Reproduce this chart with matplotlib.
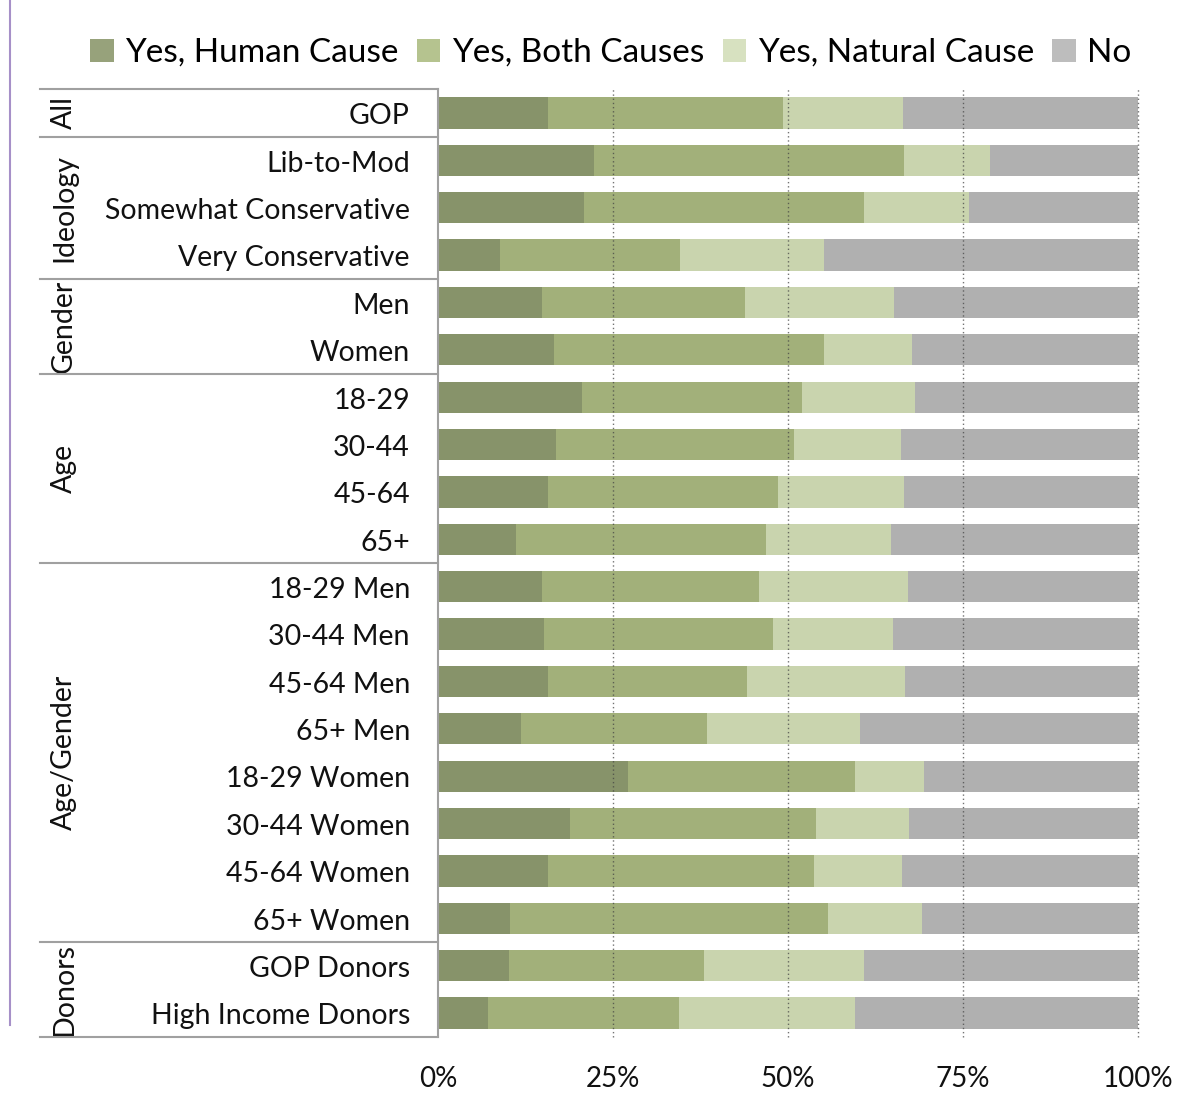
import matplotlib
matplotlib.use("Agg")
import matplotlib.pyplot as plt
from matplotlib.patches import Patch
import numpy as np

plt.rcParams['font.family'] = ['Lato', 'DejaVu Sans']

categories = ["GOP", "Lib-to-Mod", "Somewhat Conservative", "Very Conservative",
              "Men", "Women", "18-29", "30-44", "45-64", "65+",
              "18-29 Men", "30-44 Men", "45-64 Men", "65+ Men",
              "18-29 Women", "30-44 Women", "45-64 Women", "65+ Women",
              "GOP Donors", "High Income Donors"]
groups = [("All", 0, 0), ("Ideology", 1, 3), ("Gender", 4, 5), ("Age", 6, 9),
          ("Age/Gender", 10, 17), ("Donors", 18, 19)]
series_names = ["Yes, Human Cause", "Yes, Both Causes", "Yes, Natural Cause", "No"]
human   = [15.7, 22.3, 20.8, 8.9, 14.8, 16.6, 20.5, 16.8, 15.7, 11.1,
           14.9, 15.1, 15.7, 11.8, 27.1, 18.8, 15.7, 10.3, 10.2, 7.1]
both    = [33.6, 44.2, 40.1, 25.7, 29.1, 38.5, 31.5, 34.0, 32.8, 35.7,
           31.0, 32.8, 28.4, 26.6, 32.4, 35.2, 38.0, 45.4, 27.8, 27.3]
natural = [17.1, 12.3, 15.0, 20.5, 21.3, 12.6, 16.2, 15.3, 18.0, 17.9,
           21.2, 17.1, 22.6, 21.9, 9.9, 13.3, 12.6, 13.4, 22.8, 25.1]
no      = [33.6, 21.2, 24.1, 44.9, 34.8, 32.3, 31.8, 33.9, 33.5, 35.3,
           32.9, 35.0, 33.3, 39.7, 30.6, 32.7, 33.7, 30.9, 39.2, 40.5]
xticks = [0, 25, 50, 75, 100]
xticklabels = ["0%", "25%", "50%", "75%", "100%"]

colors = ["#87936a", "#a2b07a", "#c9d4ae", "#b0b0b0"]
legend_colors = ["#97a27b", "#b5c38f", "#d7e1c0", "#bdbdbd"]

W, H = 1184, 1103
fig = plt.figure(figsize=(W / 100, H / 100), dpi=100)
left_px, right_px, top_px, bot_px = 438, 1138, 89.3, 1036.7
ax = fig.add_axes([left_px / W, 1 - bot_px / H, (right_px - left_px) / W, (bot_px - top_px) / H])

n = len(categories)
y = np.arange(n)
data = [human, both, natural, no]
lefts = np.zeros(n)
for vals, c, name in zip(data, colors, series_names):
    vals = np.array(vals)
    ax.barh(y, vals, left=lefts, height=0.66, color=c, edgecolor='none', zorder=2, label=name)
    lefts += vals

ax.set_xlim(0, 100)
ax.set_ylim(n - 0.5, -0.5)
for s in ax.spines.values():
    s.set_visible(False)
ax.set_yticks([])
ax.set_xticks(xticks)
ax.set_xticklabels(xticklabels, fontsize=20, color='#111111')
ax.tick_params(axis='x', length=0, pad=21)

for xv in [25, 50, 75, 100]:
    ax.axvline(xv, color='#444444', linestyle=(0, (1, 2)), linewidth=1.0, alpha=0.75, zorder=3,
               clip_on=False)

trans = ax.get_yaxis_transform()
x_tab_left = (40 - left_px) / (right_px - left_px)
x_lab = (410 - left_px) / (right_px - left_px)
x_grp = (64 - left_px) / (right_px - left_px)

# category labels
for i, cat in enumerate(categories):
    ax.text(x_lab, i + 0.07, cat, transform=trans, ha='right', va='center', fontsize=20.5,
            color='#111111', clip_on=False)

# group separators and labels
line_col = '#a0a0a0'
bounds = [-0.5]
for name, a, b in groups:
    bounds.append(b + 0.5)
    ax.text(x_grp, (a + b) / 2, name, transform=trans, ha='center', va='center',
            rotation=90, fontsize=20.5, color='#111111', clip_on=False)
for bd in bounds:
    ax.plot([x_tab_left, 0], [bd, bd], transform=trans, color=line_col, lw=1.5,
            clip_on=False, zorder=4)
ax.plot([0, 0], [-0.5, n - 0.5], transform=trans, color=line_col, lw=1.5, clip_on=False, zorder=4)

# purple left rule
fig.add_artist(plt.Line2D([10 / W, 10 / W], [1 - 1025 / H, 1.0], transform=fig.transFigure,
                          color='#a690c8', lw=1.5))

handles = [Patch(facecolor=c, edgecolor='none', label=nm) for c, nm in zip(legend_colors, series_names)]
fig.legend(handles=handles, loc='center', bbox_to_anchor=(611 / W, 1 - 53 / H), ncol=4,
           frameon=False, fontsize=24, handlelength=0.7, handleheight=0.7,
           handletextpad=0.35, columnspacing=0.55, borderaxespad=0)

fig.savefig("out.png", dpi=100)
